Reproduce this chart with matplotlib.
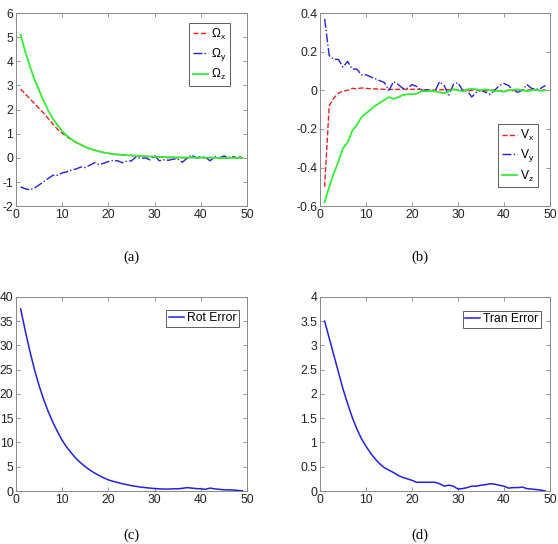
import numpy as np
import matplotlib
matplotlib.use("Agg")
import matplotlib.pyplot as plt

plt.rcParams['font.family'] = ['Liberation Sans', 'DejaVu Sans']
plt.rcParams['mathtext.fontset'] = 'custom'
plt.rcParams['mathtext.rm'] = 'Liberation Sans'
plt.rcParams['mathtext.it'] = 'Liberation Sans'
plt.rcParams['axes.unicode_minus'] = False

# iteration index
iters = np.arange(1, 50)

# (a) rotation velocity components
omega_x = [2.85, 2.65, 2.45, 2.25, 2.05, 1.85, 1.62, 1.4, 1.18, 1.02, 0.88, 0.75, 0.63, 0.55, 0.45,
           0.38, 0.32, 0.27, 0.22, 0.19, 0.16, 0.14, 0.12, 0.11, 0.10, 0.09, 0.08, 0.06, 0.04, 0.03,
           0.03, 0.02, 0.01, 0.02, 0.0, 0.01, 0.0, 0.02, 0.01, 0.0, 0.0, 0.02, 0.01, -0.02, -0.03,
           0.0, 0.01, 0.0, 0.0]
omega_y = [-1.2, -1.28, -1.32, -1.25, -1.12, -0.98, -0.85, -0.72, -0.72, -0.62, -0.58, -0.5, -0.46,
           -0.38, -0.4, -0.3, -0.2, -0.28, -0.22, -0.15, -0.1, -0.12, -0.2, -0.14, -0.12, 0.05, -0.02,
           0.0, -0.08, 0.1, -0.12, -0.08, -0.1, -0.05, -0.05, -0.18, -0.02, 0.12, 0.0, 0.05, 0.02,
           -0.12, 0.05, 0.0, 0.08, 0.02, 0.05, 0.0, 0.08]
omega_z = [5.1, 4.4, 3.8, 3.25, 2.8, 2.35, 1.95, 1.62, 1.35, 1.1, 0.92, 0.77, 0.65, 0.55, 0.45, 0.38,
           0.32, 0.27, 0.22, 0.19, 0.16, 0.14, 0.12, 0.11, 0.10, 0.09, 0.08, 0.07, 0.06, 0.05, 0.04,
           0.04, 0.03, 0.03, 0.02, 0.02, 0.02, 0.01, 0.01, 0.01, 0.01, 0.01, 0.0, 0.0, 0.0, 0.0, 0.0,
           0.0, 0.0]

# (b) translation velocity components
v_x = [-0.5, -0.08, -0.04, -0.015, -0.005, 0.0, 0.01, 0.008, 0.012, 0.01, 0.008, 0.007, 0.006, 0.005,
       0.005, 0.004, 0.005, 0.006, 0.004, 0.005, 0.005, 0.004, 0.003, 0.002, 0.0, 0.002, 0.004, 0.003,
       0.005, 0.002, 0.0, -0.005, 0.0, 0.003, 0.0, -0.003, 0.0, 0.002, -0.002, -0.003, 0.0, -0.002,
       0.0, 0.002, 0.0, 0.003, 0.002, 0.0, 0.002]
v_y = [0.37, 0.18, 0.16, 0.16, 0.12, 0.15, 0.11, 0.11, 0.08, 0.08, 0.07, 0.06, 0.05, 0.04, 0.0, 0.045,
       0.03, 0.01, 0.01, 0.03, 0.02, 0.0, 0.0, 0.0, -0.005, 0.045, 0.025, -0.025, 0.03, 0.04, 0.0, 0.0,
       -0.035, -0.01, 0.0, -0.01, -0.02, 0.0, 0.025, 0.035, 0.025, 0.0, -0.01, 0.0, 0.03, 0.01, 0.005,
       0.01, 0.025]
v_z = [-0.58, -0.5, -0.43, -0.37, -0.3, -0.27, -0.21, -0.18, -0.14, -0.12, -0.1, -0.08, -0.065, -0.05,
       -0.035, -0.045, -0.035, -0.025, -0.02, -0.02, -0.018, -0.005, -0.005, -0.003, -0.005, -0.01,
       -0.015, -0.005, 0.005, 0.0, -0.005, 0.005, 0.008, 0.005, 0.0, 0.005, 0.0, -0.005, -0.003,
       -0.008, 0.0, 0.003, 0.005, 0.0, -0.005, 0.0, 0.002, -0.003, 0.0]

# (c) rotation error, (d) translation error
rot_err = [37.5, 33.0, 28.8, 25.0, 21.7, 18.8, 16.3, 14.1, 12.2, 10.4, 9.0, 7.8, 6.7, 5.8, 5.0, 4.3,
           3.7, 3.2, 2.7, 2.3, 2.0, 1.75, 1.5, 1.3, 1.1, 0.95, 0.8, 0.7, 0.6, 0.5, 0.45, 0.4, 0.4,
           0.45, 0.45, 0.55, 0.7, 0.6, 0.5, 0.45, 0.35, 0.6, 0.45, 0.35, 0.25, 0.25, 0.2, 0.12, 0.05]
tran_err = [3.5, 3.15, 2.8, 2.45, 2.1, 1.8, 1.52, 1.28, 1.08, 0.92, 0.78, 0.66, 0.56, 0.48, 0.43, 0.38,
            0.32, 0.28, 0.25, 0.22, 0.18, 0.18, 0.18, 0.18, 0.18, 0.15, 0.1, 0.12, 0.1, 0.04, 0.05,
            0.07, 0.1, 0.1, 0.12, 0.13, 0.15, 0.14, 0.12, 0.1, 0.06, 0.07, 0.07, 0.08, 0.05, 0.04,
            0.03, 0.02, 0.0]

red = '#ee2222'
blue = '#2222dd'
green = '#33ee33'

fig = plt.figure(figsize=(5.58, 5.44), dpi=100)
ax_a = fig.add_axes([0.0287, 0.621, 0.414, 0.355])
ax_b = fig.add_axes([0.5735, 0.621, 0.412, 0.355])
ax_c = fig.add_axes([0.0287, 0.0974, 0.414, 0.357])
ax_d = fig.add_axes([0.5735, 0.0974, 0.412, 0.357])


def style(ax):
    for s in ax.spines.values():
        s.set_color('#888888')
        s.set_linewidth(0.7)
    ax.tick_params(direction='in', length=3, width=0.6, color='#888888',
                   labelsize=8.7, labelcolor='#222222', top=True, right=True, pad=2)
    ax.set_xlim(0, 50)
    ax.set_xticks([0, 10, 20, 30, 40, 50])


def legend(ax, spacing=0.35, pad=0.3, **kw):
    leg = ax.legend(fontsize=8.7, fancybox=False, handlelength=1.25, handletextpad=0.25,
                    borderpad=pad, labelspacing=spacing, borderaxespad=0, **kw)
    leg.get_frame().set_edgecolor('#333333')
    leg.get_frame().set_linewidth(0.7)
    return leg


ax_a.plot(iters, omega_x, '--', color=red, lw=1, label=r'$\Omega_\mathrm{x}$')
ax_a.plot(iters, omega_y, '-.', color=blue, lw=1, label=r'$\Omega_\mathrm{y}$')
ax_a.plot(iters, omega_z, '-', color=green, lw=1.3, label=r'$\Omega_\mathrm{z}$')
style(ax_a)
ax_a.set_ylim(-2, 6)
ax_a.set_yticks(range(-2, 7))
legend(ax_a, loc='upper right', bbox_to_anchor=(0.926, 0.948))

ax_b.plot(iters, v_x, '--', color=red, lw=1, label=r'$\mathrm{V_x}$')
ax_b.plot(iters, v_y, '-.', color=blue, lw=1, label=r'$\mathrm{V_y}$')
ax_b.plot(iters, v_z, '-', color=green, lw=1.3, label=r'$\mathrm{V_z}$')
style(ax_b)
ax_b.set_ylim(-0.6, 0.4)
ax_b.set_yticks([-0.6, -0.4, -0.2, 0, 0.2, 0.4])
ax_b.set_yticklabels(['-0.6', '-0.4', '-0.2', '0', '0.2', '0.4'])
legend(ax_b, loc='lower right', bbox_to_anchor=(0.948, 0.098))

ax_c.plot(iters, rot_err, '-', color=blue, lw=1.1, label='Rot Error')
style(ax_c)
ax_c.set_ylim(0, 40)
ax_c.set_yticks(range(0, 41, 5))
legend(ax_c, pad=0.2, loc='upper right', bbox_to_anchor=(0.965, 0.933))

ax_d.plot(iters, tran_err, '-', color=blue, lw=1.1, label='Tran Error')
style(ax_d)
ax_d.set_ylim(0, 4)
ax_d.set_yticks([0, 0.5, 1, 1.5, 2, 2.5, 3, 3.5, 4])
ax_d.set_yticklabels(['0', '0.5', '1', '1.5', '2', '2.5', '3', '3.5', '4'])
legend(ax_d, pad=0.2, loc='upper right', bbox_to_anchor=(0.961, 0.928))

for label, x, y, va in [('(a)', 0.235, 0.527, 'center'), ('(b)', 0.753, 0.527, 'center'),
                        ('(c)', 0.235, 0.003, 'bottom'), ('(d)', 0.753, 0.003, 'bottom')]:
    fig.text(x, y, label, ha='center', va=va, fontsize=10.5,
             family=['Liberation Serif', 'DejaVu Serif'])

fig.savefig('out.png', dpi=100)
